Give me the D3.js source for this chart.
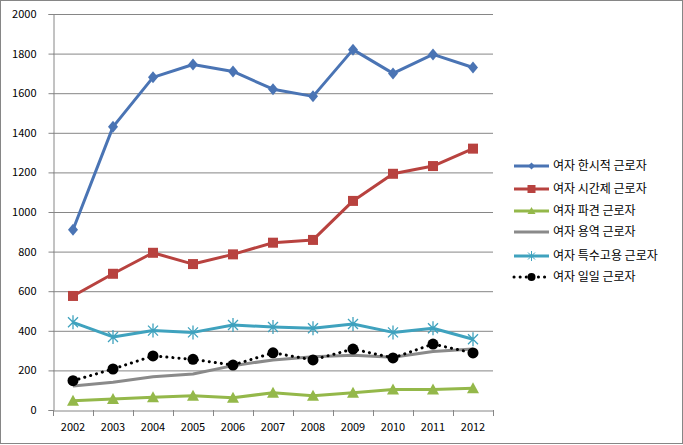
<!DOCTYPE html>
<html><head><meta charset="utf-8">
<script src="https://cdn.jsdelivr.net/npm/d3@7"></script>
<style>body{margin:0;background:#fff}svg{display:block}text{font-family:"Noto Sans CJK KR","DejaVu Sans",sans-serif;}</style>
</head><body>
<svg id="c" width="683" height="445"></svg>
<script>
const years = ["2002","2003","2004","2005","2006","2007","2008","2009","2010","2011","2012"];
const yTicks = [0,200,400,600,800,1000,1200,1400,1600,1800,2000];
const seriesNames = ["여자 한시적 근로자","여자 시간제 근로자","여자 파견 근로자","여자 용역 근로자","여자 특수고용 근로자","여자 일일 근로자"];
const temp   = [910,1430,1680,1745,1710,1620,1584,1820,1700,1796,1730];
const part   = [576,688,794,737,786,845,859,1056,1193,1232,1320];
const dispatch = [47,56,64,72,62,87,72,87,104,104,110];
const service  = [121,140,168,182,224,253,269,276,266,296,308];
const special  = [443,369,401,392,429,419,413,434,392,413,357];
const daily    = [148,207,273,256,227,289,253,308,263,333,288];

const styles = [
  {color:"#4A74B4", marker:"diamond"},
  {color:"#B8423F", marker:"square"},
  {color:"#94B84A", marker:"triangle"},
  {color:"#8A8A8A", marker:"none"},
  {color:"#3FA2BE", marker:"asterisk"},
  {color:"#000000", marker:"circle", dash:"0.1,6"}
];
const data = [temp, part, dispatch, service, special, daily];

const svg = d3.select("#c");
svg.append("rect").attr("x",0.5).attr("y",0.5).attr("width",682).attr("height",443)
  .attr("fill","#fff").attr("stroke","#868686");

const x = d3.scaleBand().domain(years).range([53,493]);
const y = d3.scaleLinear().domain([0,2000]).range([410,14]);

// gridlines
svg.append("g").selectAll("line").data(yTicks.filter(d=>d>0)).join("line")
  .attr("x1",53).attr("x2",493).attr("y1",d=>y(d)+0.5).attr("y2",d=>y(d)+0.5)
  .attr("stroke","#868686").attr("stroke-width",1);

const yAxis = svg.append("g").attr("transform","translate(53.5,0)")
  .call(d3.axisLeft(y).tickValues(yTicks).tickSize(5).tickPadding(12).tickFormat(d3.format("d")));
yAxis.select(".domain").attr("stroke","#868686");
yAxis.selectAll(".tick line").attr("stroke","#868686");
yAxis.selectAll("text").attr("font-size","11px").attr("fill","#000").attr("font-family","DejaVu Sans, sans-serif");

const xAxis = svg.append("g").attr("transform","translate(0,410.5)")
  .call(d3.axisBottom(x).tickSize(0).tickPadding(13));
xAxis.select(".domain").attr("stroke","#868686");
xAxis.selectAll("text").attr("font-size","11px").attr("fill","#000").attr("font-family","DejaVu Sans, sans-serif");
// category boundary ticks
svg.append("g").selectAll("line").data(years.concat(["end"])).join("line")
  .attr("x1",(d,i)=>53+i*x.step()+0.5).attr("x2",(d,i)=>53+i*x.step()+0.5)
  .attr("y1",410).attr("y2",416).attr("stroke","#868686");

const cx = d => x(d)+x.bandwidth()/2;
const line = d3.line().x((d,i)=>cx(years[i])).y(d=>y(d));

function drawMarker(g, type, color, px, py){
  if(type==="diamond"){
    g.append("path").attr("d",`M${px},${py-6}L${px+5},${py}L${px},${py+6}L${px-5},${py}Z`).attr("fill",color);
  } else if(type==="square"){
    g.append("rect").attr("x",px-5).attr("y",py-5).attr("width",10).attr("height",10).attr("fill",color);
  } else if(type==="triangle"){
    g.append("path").attr("d",`M${px},${py-6}L${px+6},${py+5}L${px-6},${py+5}Z`).attr("fill",color);
  } else if(type==="asterisk"){
    g.append("path").attr("d",`M${px-5},${py-5}L${px+5},${py+5}M${px+5},${py-5}L${px-5},${py+5}M${px},${py-7}L${px},${py+7}`)
      .attr("stroke",color).attr("stroke-width",1.3).attr("fill","none");
  } else if(type==="circle"){
    g.append("circle").attr("cx",px).attr("cy",py).attr("r",5.5).attr("fill",color);
  }
}

const order = [3,2,5,4,1,0];
order.forEach(si=>{
  const s = styles[si];
  const g = svg.append("g");
  g.append("path").datum(data[si]).attr("d",line).attr("fill","none")
    .attr("stroke",s.color).attr("stroke-width",3)
    .attr("stroke-linecap",s.dash?"round":"butt").attr("stroke-linejoin","round")
    .attr("stroke-dasharray",s.dash||null);
  data[si].forEach((v,i)=>drawMarker(g,s.marker,s.color,cx(years[i]),y(v)));
});

// legend
const legY = [166,189,211,232,256,277];
const lg = svg.append("g");
seriesNames.forEach((n,i)=>{
  const s = styles[i];
  lg.append("line").attr("x1",514).attr("x2",549).attr("y1",legY[i]).attr("y2",legY[i])
    .attr("stroke",s.color).attr("stroke-width",3)
    .attr("stroke-linecap",s.dash?"round":"butt").attr("stroke-dasharray",s.dash||null);
  const m = lg.append("g");
  if(s.marker==="diamond") m.append("path").attr("d",`M531.5,${legY[i]-3.5}L535,${legY[i]}L531.5,${legY[i]+3.5}L528,${legY[i]}Z`).attr("fill",s.color);
  else if(s.marker==="square") m.append("rect").attr("x",527.5).attr("y",legY[i]-4).attr("width",8).attr("height",8).attr("fill",s.color);
  else if(s.marker==="triangle") m.append("path").attr("d",`M531.5,${legY[i]-4}L535.5,${legY[i]+3}L527.5,${legY[i]+3}Z`).attr("fill",s.color);
  else if(s.marker==="asterisk") m.append("path").attr("d",`M528,${legY[i]-3.5}L535,${legY[i]+3.5}M535,${legY[i]-3.5}L528,${legY[i]+3.5}M531.5,${legY[i]-5}L531.5,${legY[i]+5}`).attr("stroke",s.color).attr("stroke-width",1);
  else if(s.marker==="circle") m.append("circle").attr("cx",531.5).attr("cy",legY[i]).attr("r",4).attr("fill",s.color);
  lg.append("text").attr("x",553).attr("y",legY[i]).attr("dy","0.36em")
    .attr("font-size","12px").attr("fill","#000").text(n);
});
</script>
</body></html>
